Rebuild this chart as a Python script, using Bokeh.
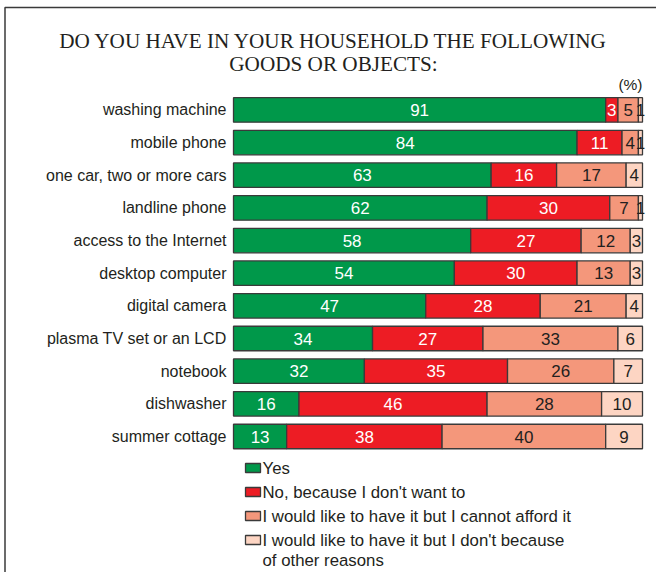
import numpy as np
from bokeh.plotting import figure
from bokeh.models import Range1d, ColumnDataSource
from bokeh.core.properties import value
from bokeh.embed import file_html
from bokeh.resources import INLINE

# ---------------- data ----------------
categories = [
    "washing machine", "mobile phone", "one car, two or more cars",
    "landline phone", "access to the Internet", "desktop computer",
    "digital camera", "plasma TV set or an LCD", "notebook",
    "dishwasher", "summer cottage",
]
yes = [91, 84, 63, 62, 58, 54, 47, 34, 32, 16, 13]
no_want = [3, 11, 16, 30, 27, 30, 28, 27, 35, 46, 38]
cannot_afford = [5, 4, 17, 7, 12, 13, 21, 33, 26, 28, 40]
other_reasons = [1, 1, 4, 1, 3, 3, 4, 6, 7, 10, 9]
series_names = [
    "Yes",
    "No, because I don't want to",
    "I would like to have it but I cannot afford it",
    "I would like to have it but I don't because\nof other reasons",
]
title_lines = ["DO YOU HAVE IN YOUR HOUSEHOLD THE FOLLOWING", "GOODS OR OBJECTS:"]
unit_label = "(%)"

# ---------------- styles ----------------
colors = ["#00984A", "#ED1C24", "#F4977B", "#FDD5C3"]
text_colors = ["white", "white", "#231F20", "#231F20"]
ink = "#231F20"
W, H = 656, 572
X0, PX = 233.0, 4.09          # pixel of 0 %, pixels per %
Y0, PY = 109.4, 32.66         # pixel of first row centre, row step


def px2x(px):
    return (px - X0) / PX


def py2y(py):
    return (py - Y0) / PY


p = figure(width=W, height=H, output_backend="svg", toolbar_location=None,
           x_range=Range1d(px2x(0), px2x(W)), y_range=Range1d(py2y(H), py2y(0)),
           x_axis_location=None, y_axis_location=None, min_border=0)
p.outline_line_color = None
p.grid.visible = False
p.background_fill_color = "white"
p.border_fill_color = "white"

idx = np.arange(len(categories))
series = [yes, no_want, cannot_afford, other_reasons]
left = np.zeros(len(categories))
for vals, col, tcol in zip(series, colors, text_colors):
    v = np.array(vals, dtype=float)
    right = left + v
    src = ColumnDataSource(dict(y=idx, left=left, right=right,
                                mid=(left + right) / 2,
                                lab=[str(int(a)) for a in v]))
    p.hbar(y="y", left="left", right="right", height=0.75, source=src,
           fill_color=col, line_color="#3A3A3A", line_width=1.3)
    p.text(x="mid", y="y", text="lab", source=src, text_align="center",
           text_baseline="middle", text_color=tcol, text_font_size="17px",
           text_font=value("Liberation Sans"))
    left = right

# category labels
p.text(x=[px2x(226)] * len(categories), y=idx, text=categories,
       text_align="right", text_baseline="middle", text_color=ink,
       text_font_size="16px", text_font=value("Liberation Sans"))

# title
p.text(x=[px2x(333)] * 2, y=[py2y(40.5), py2y(63.5)], text=title_lines,
       text_align="center", text_baseline="middle", text_color=ink,
       text_font_size="21.2px", text_font=value("Liberation Serif"))
p.text(x=[px2x(642)], y=[py2y(84)], text=[unit_label], text_align="right",
       text_baseline="middle", text_color=ink, text_font_size="15.5px",
       text_font=value("Liberation Sans"))

# legend (manual)
n = len(series_names)
leg_y = [py2y(467.5 + 24 * i) for i in range(n)]
p.rect(x=[px2x(252.5)] * n, y=leg_y, width=15 / PX,
       height=9 / PY, fill_color=colors, line_color="#3A3A3A", line_width=1.3)
lx, ly, lt = [], [], []
for i, name in enumerate(series_names):
    for j, line in enumerate(name.split("\n")):
        lx.append(px2x(262))
        ly.append(py2y(467.5 + 24 * i + 20 * j))
        lt.append(line)
p.text(x=lx, y=ly, text=lt, text_align="left", text_baseline="middle",
       text_color=ink, text_font_size="16.8px", text_font=value("Liberation Sans"))

# frame border (left and top)
p.line(x=[px2x(4.5), px2x(4.5), px2x(W)], y=[py2y(H), py2y(7), py2y(7)],
       line_color="#3A3A3A", line_width=1.5)

open("out.html", "w").write(file_html(p, INLINE))
